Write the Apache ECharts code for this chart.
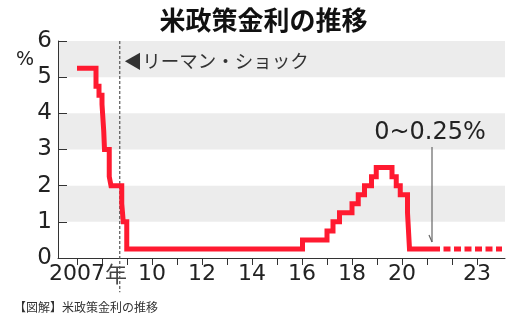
<!DOCTYPE html>
<html><head><meta charset="utf-8">
<script src="https://cdn.jsdelivr.net/npm/echarts@6/dist/echarts.min.js"></script>
<style>html,body{margin:0;padding:0;background:#fff}#c{width:527px;height:322px}</style>
</head><body><div id="c"></div>
<script>
// ---- data ----
const titleText = '米政策金利の推移';
const captionText = '【図解】米政策金利の推移';
const tickYears = [2007,2008,2009,2010,2011,2012,2013,2014,2015,2016,2017,2018,2019,2020,2021,2022,2023];
const labelYears = [2007,2010,2012,2014,2016,2018,2020,2023];
const rateDates = [2007.0, 2007.76, 2007.88, 2008.0, 2008.07, 2008.1, 2008.29, 2008.36, 2008.79, 2008.85, 2008.99,
  2016.02, 2017.0, 2017.24, 2017.5, 2018.0, 2018.25, 2018.5, 2018.78, 2018.97, 2019.6, 2019.77, 2019.93, 2020.22, 2020.3, 2021.24];
const rateValues = [5.25, 4.75, 4.5, 4.25, 3.5, 3.0, 2.25, 2.0, 1.5, 1.0, 0.25,
  0.5, 0.75, 1.0, 1.25, 1.5, 1.75, 2.0, 2.25, 2.5, 2.25, 2.0, 1.75, 1.25, 0.25, 0.25];
const futureDates = [2021.24, 2024.0];
const futureValues = [0.25, 0.25];
const lehmanDate = 2008.71;
const lehmanText = '◀リーマン・ショック';
const noteText = '0~0.25%';
const notePoint = [2021.2, 0.44];
const noteTop = 3.07;

const solid = rateDates.map((d,i)=>[d, rateValues[i]]);
const dashed = futureDates.map((d,i)=>[d, futureValues[i]]);
const RED = '#ff1a30';
const FONT = '"Noto Sans CJK JP", "Noto Sans", sans-serif';
const NUMFONT = '"DejaVu Sans", "Noto Sans", sans-serif';

const chart = echarts.init(document.getElementById('c'));
chart.setOption({
  animation:false,
  textStyle:{fontFamily:FONT},
  title:{text:titleText,left:'center',top:2,textStyle:{fontSize:26,fontWeight:'bold',color:'#111',fontFamily:FONT}},
  grid:{left:58,right:22,top:41,bottom:64,containLabel:false},
  xAxis:{type:'value',min:2006.24,max:2024.12,
    splitLine:{show:false},
    axisLine:{lineStyle:{color:'#333',width:1}},
    axisTick:{show:true,inside:false,length:7,customValues:tickYears,lineStyle:{color:'#333'}},
    axisLabel:{customValues:labelYears,margin:5,fontSize:22,color:'#222',fontFamily:NUMFONT,
      formatter:v=> v===2007 ? '{p|}2007{n|年}' : String(v%100).padStart(2,'0'),
      rich:{p:{width:22,fontSize:22},n:{fontSize:22,color:'#444',fontFamily:FONT}}}
  },
  yAxis:{type:'value',min:0,max:6,interval:1,
    axisLine:{show:true,lineStyle:{color:'#333'}},
    axisTick:{show:true,inside:true,length:9,lineStyle:{color:'#333'}},
    axisLabel:{fontSize:23,color:'#222',margin:6,fontFamily:NUMFONT},
    splitLine:{show:false},
    splitArea:{show:true,areaStyle:{color:['rgba(255,255,255,0)','#ececec']}}
  },
  series:[
    {type:'line',step:'end',data:solid,symbol:'none',z:5,
      lineStyle:{color:RED,width:5,join:'miter'}},
    {type:'line',data:dashed,symbol:'none',z:5,
      lineStyle:{color:RED,width:5,type:[7,3.5]}}
  ]
});

const px = p => chart.convertToPixel({xAxisIndex:0,yAxisIndex:0}, p);
const tipPx = px(notePoint);
const topPx = px([notePoint[0], noteTop]);
const lehTop = px([lehmanDate, 6]);
const lehBot = px([lehmanDate, -0.95]);
const lehTxt = px([lehmanDate, 5.45]);
chart.setOption({graphic:[
  {type:'line',shape:{x1:lehTop[0],y1:lehTop[1],x2:lehBot[0],y2:lehBot[1]},style:{stroke:'#555',lineWidth:1.2,lineDash:[3,2]},z:1},
  {type:'line',shape:{x1:topPx[0],y1:topPx[1],x2:tipPx[0],y2:tipPx[1]},style:{stroke:'#666',lineWidth:1.2},z:10},
  {type:'line',shape:{x1:tipPx[0]-3,y1:tipPx[1]-7,x2:tipPx[0],y2:tipPx[1]},style:{stroke:'#666',lineWidth:1.2},z:10},
  {type:'text',x:topPx[0]-2,y:topPx[1]-14,style:{text:noteText,fontSize:24,fill:'#222',fontFamily:NUMFONT,textAlign:'center',textVerticalAlign:'middle'},z:10},
  {type:'text',x:lehTxt[0]+4,y:lehTxt[1],style:{text:lehmanText,fontSize:18.5,fill:'#333',fontFamily:FONT,textAlign:'left',textVerticalAlign:'middle'},z:10},
  {type:'text',x:25,y:60,style:{text:'%',fontSize:19,fill:'#222',fontFamily:NUMFONT,textAlign:'center',textVerticalAlign:'middle'},z:10},
  {type:'text',x:14,y:307,style:{text:captionText,fontSize:12,fill:'#333',fontFamily:FONT,textAlign:'left',textVerticalAlign:'middle'},z:10}
]});
</script></body></html>
